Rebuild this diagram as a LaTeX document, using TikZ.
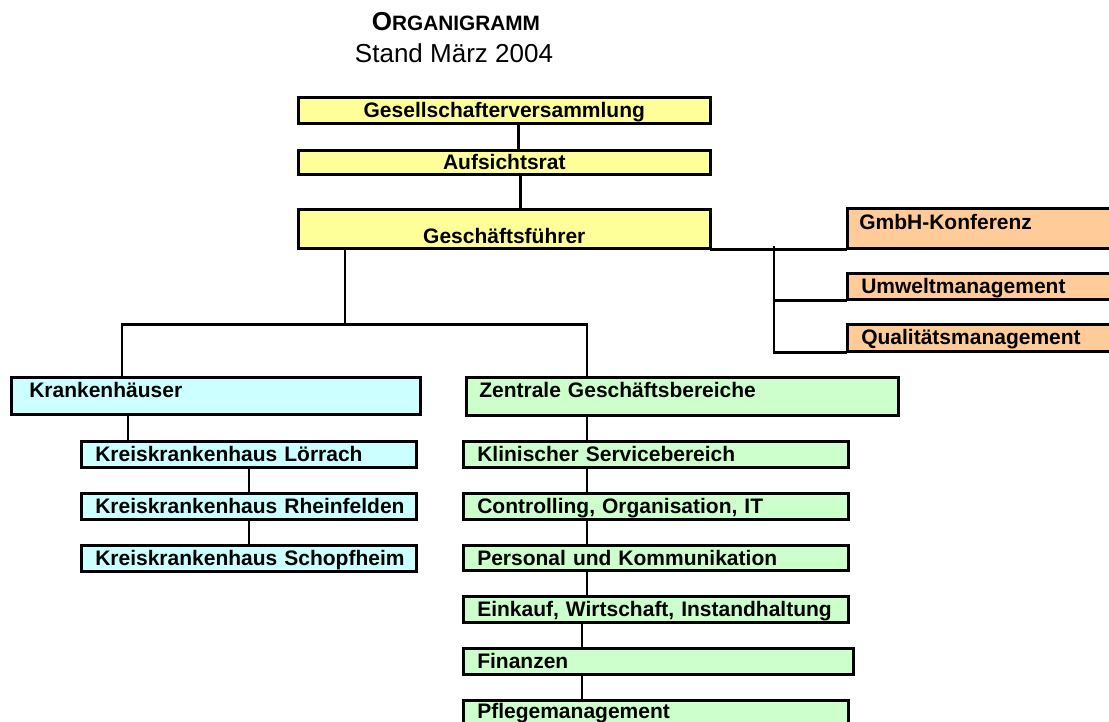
\documentclass[tikz,border=0pt]{standalone}
\usepackage{fontspec}
\setmainfont{Liberation Sans}

\definecolor{gelb}{HTML}{FFFF99}
\definecolor{orangeb}{HTML}{FFCC99}
\definecolor{cyanb}{HTML}{CCFFFF}
\definecolor{gruen}{HTML}{CCFFCC}

\tikzset{
  unit/.style={draw, line width=2.6pt, rectangle, inner sep=0pt, anchor=north west,
    font=\bfseries\fontsize{21}{24}\selectfont},
  mitte/.style n args={3}{unit, fill=gelb, align=center, text width=#1pt,
    text height=#2pt, text depth=#3pt},
  links/.style n args={3}{unit, align=left, text width=#1pt,
    text height=#2pt, text depth=#3pt},
  einzug/.style={execute at begin node={\noindent\hspace*{#1pt}}},
  con/.style={line width=2.6pt, line cap=rect}
}

\begin{document}
\begin{tikzpicture}[x=1pt,y=-1pt]
    \useasboundingbox (0,0) rectangle (1109,722);

    \node[font=\bfseries\fontsize{26}{30}\selectfont, anchor=base] (titel) at (456,31)
        {O{\fontsize{20.8}{24}\selectfont RGANIGRAMM}};
    \node[font=\fontsize{26}{30}\selectfont, anchor=base] (stand) at (454,63) {Stand März 2004};

    % Leitung
    \node[mitte={412}{20.5}{5.5}] (gv) at (297,96) {Gesellschafterversammlung};
    \node[mitte={412}{19.5}{4.5}] (ar) at (297,149) {Aufsichtsrat};
    \node[mitte={412}{34}{5}] (gf) at (297,208) {Geschäftsführer};

    % Stabsstellen
    \node[links={270}{21}{19}, einzug=12, fill=orangeb] (gk) at (846,207) {GmbH-Konferenz};
    \node[links={270}{20}{6}, einzug=14, fill=orangeb] (um) at (846,272) {Umweltmanagement};
    \node[links={270}{20}{7}, einzug=14, fill=orangeb] (qm) at (846,323) {Qualitätsmanagement};

    % Krankenhaeuser
    \node[links={409}{20}{17}, einzug=18, fill=cyanb] (kh) at (10,376) {Krankenhäuser};
    \node[links={335}{20}{6}, einzug=14, fill=cyanb] (kl) at (80,440) {Kreiskrankenhaus Lörrach};
    \node[links={335}{20}{6}, einzug=14, fill=cyanb] (kr) at (80,492) {Kreiskrankenhaus Rheinfelden};
    \node[links={335}{20}{6}, einzug=14, fill=cyanb] (ks) at (80,544) {Kreiskrankenhaus Schopfheim};

    % Zentrale Geschaeftsbereiche
    \node[links={432}{20}{18}, einzug=13, fill=gruen] (zg) at (465,376) {Zentrale Geschäftsbereiche};
    \node[links={385}{20}{6}, einzug=14, fill=gruen] (ksb) at (462,440) {Klinischer Servicebereich};
    \node[links={385}{20}{6}, einzug=14, fill=gruen] (coit) at (462,492) {Controlling, Organisation, IT};
    \node[links={385}{20}{5}, einzug=14, fill=gruen] (pk) at (462,544) {Personal und Kommunikation};
    \node[links={385}{20}{6}, einzug=14, fill=gruen] (ewi) at (462,595) {Einkauf, Wirtschaft, Instandhaltung};
    \node[links={390}{20}{6}, einzug=14, fill=gruen] (fin) at (462,647) {Finanzen};
    \node[links={385}{18}{8}, einzug=14, fill=gruen] (pfl) at (462,699) {Pflegemanagement};

    \draw[con] ([xshift=14]gv.south) -- ([xshift=14]ar.north);
    \draw[con] ([xshift=16]ar.south) -- ([xshift=16]gf.north);
    \draw[con] (gf.south east) -- (gk.south west);
    \coordinate (qs) at (774,247);
    \draw[con] (qs) |- (um.south west);
    \draw[con] (qs) |- (qm.south west);
    \draw[con] ([xshift=48]gf.south west) -- ++(0,75) coordinate (split);
    \draw[con] ([xshift=112]kh.north west) |- (split) -| ([xshift=122]zg.north west);
    \draw[con] ([xshift=118]kh.south west) -- ([xshift=118]kh.south west |- kl.north);
    \draw[con] (kl.south) -- (kr.north);
    \draw[con] (kr.south) -- (ks.north);
    \draw[con] ([xshift=122]zg.south west) -- ([xshift=122]zg.south west |- ksb.north);
    \foreach \a/\b/\dx in {ksb/coit/125, coit/pk/125, pk/ewi/125, ewi/fin/120, fin/pfl/120}
        \draw[con] ([xshift=\dx]\a.south west) -- ([xshift=\dx]\b.north west);
\end{tikzpicture}
\end{document}
